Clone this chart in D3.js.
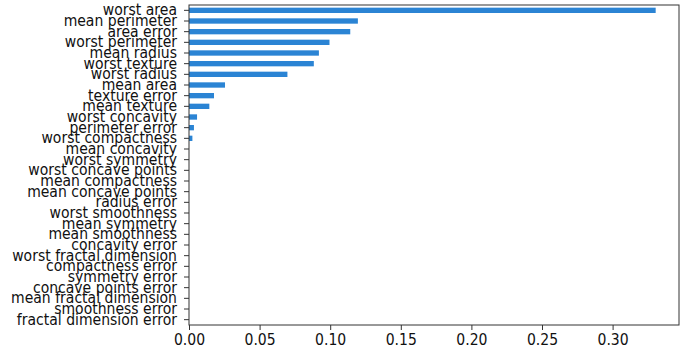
<!DOCTYPE html>
<html>
<head>
<meta charset="utf-8">
<script src="https://cdn.jsdelivr.net/npm/d3@7"></script>
<style>
  body { margin: 0; background: #fff; }
  .axis text { font-family: "DejaVu Sans", sans-serif; font-size: 14px; fill: #111; }
  .axis path, .axis line { stroke: #333; }
</style>
</head>
<body>
<script>
let w = 685;
let h = 352;
let margin = {top: 5, right: 6, bottom: 27, left: 189};

// features, top to bottom
let features = [
  "worst area", "mean perimeter", "area error", "worst perimeter", "mean radius",
  "worst texture", "worst radius", "mean area", "texture error", "mean texture",
  "worst concavity", "perimeter error", "worst compactness", "mean concavity",
  "worst symmetry", "worst concave points", "mean compactness", "mean concave points",
  "radius error", "worst smoothness", "mean symmetry", "mean smoothness",
  "concavity error", "worst fractal dimension", "compactness error", "symmetry error",
  "concave points error", "mean fractal dimension", "smoothness error", "fractal dimension error"
];

let importance = [
  0.3305, 0.1196, 0.1142, 0.0995, 0.0920,
  0.0884, 0.0697, 0.0255, 0.0177, 0.0144,
  0.0057, 0.0035, 0.0024, 0, 0,
  0, 0, 0, 0, 0,
  0, 0, 0, 0, 0,
  0, 0, 0, 0, 0
];

let xTicks = [0, 0.05, 0.10, 0.15, 0.20, 0.25, 0.30];

let dataset = features.map(function(f, i) {
  return {name: f, value: importance[i]};
});

let svg = d3.select("body")
  .append("svg")
  .attr("width", w)
  .attr("height", h);

let xScale = d3.scaleLinear()
  .domain([0, d3.max(importance) * 1.05])
  .range([margin.left, w - margin.right]);

let yScale = d3.scaleBand()
  .domain(features)
  .range([margin.top, h - margin.bottom])
  .paddingInner(0.5)
  .paddingOuter(0.25);

// bars
svg.selectAll("rect.bar")
  .data(dataset)
  .enter()
  .append("rect")
  .attr("class", "bar")
  .attr("x", xScale(0))
  .attr("y", function(d) { return yScale(d.name); })
  .attr("width", function(d) { return xScale(d.value) - xScale(0); })
  .attr("height", yScale.bandwidth())
  .attr("fill", "#2b84d4");

// frame
svg.append("rect")
  .attr("x", margin.left)
  .attr("y", margin.top)
  .attr("width", w - margin.right - margin.left)
  .attr("height", h - margin.bottom - margin.top)
  .attr("fill", "none")
  .attr("stroke", "#333")
  .attr("stroke-width", 1);

let xAxis = d3.axisBottom(xScale)
  .tickValues(xTicks)
  .tickFormat(d3.format(".2f"))
  .tickSize(5)
  .tickPadding(3);

let yAxis = d3.axisLeft(yScale)
  .tickSize(5)
  .tickPadding(7);

svg.append("g")
  .attr("class", "axis")
  .attr("transform", "translate(0," + (h - margin.bottom) + ")")
  .call(xAxis);

svg.append("g")
  .attr("class", "axis")
  .attr("transform", "translate(" + margin.left + ",0)")
  .call(yAxis);

// the source image is slightly stretched vertically
svg.selectAll(".axis text").attr("transform", "scale(1,1.12)");

svg.selectAll(".axis .domain").remove();
</script>
</body>
</html>
